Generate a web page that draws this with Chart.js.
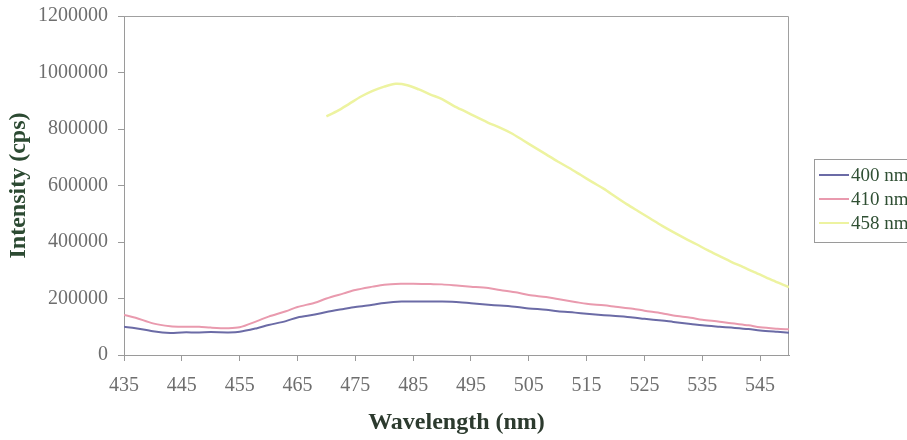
<!DOCTYPE html>
<html>
<head>
<meta charset="utf-8">
<script src="https://cdn.jsdelivr.net/npm/chart.js@4/dist/chart.umd.min.js"></script>
<style>
  html, body { margin: 0; padding: 0; background: #ffffff; }
  #wrap { width: 907px; height: 440px; position: relative; }
</style>
</head>
<body>
<div id="wrap"><canvas id="c" width="907" height="440"></canvas></div>
<script>
// ---- data ----
const seriesLabels = ["400 nm", "410 nm", "458 nm"];
const xTicks = [435, 445, 455, 465, 475, 485, 495, 505, 515, 525, 535, 545];
const yTicks = [0, 200000, 400000, 600000, 800000, 1000000, 1200000];

const wlBluePink = [435, 437, 440, 443, 445, 448, 450, 453, 455, 458, 460, 463, 465, 468, 470, 473, 475, 478, 480, 483, 485, 488, 490, 493, 495, 498, 500, 503, 505, 508, 510, 513, 515, 518, 520, 523, 525, 528, 530, 533, 535, 538, 540, 543, 545, 548, 550];
const blue400 = [100000, 95000, 84000, 78000, 80000, 80000, 81000, 80000, 82000, 95000, 106000, 120000, 133000, 143000, 152000, 163000, 170000, 178000, 184000, 189000, 189000, 189000, 189000, 187000, 183000, 178000, 175000, 170000, 165000, 160000, 155000, 150000, 146000, 141000, 138000, 133000, 128000, 122000, 117000, 110000, 105000, 100000, 97000, 92000, 87000, 82000, 79000];
const pink410 = [142000, 132000, 112000, 102000, 100000, 100000, 97000, 95000, 98000, 120000, 136000, 155000, 170000, 185000, 200000, 218000, 230000, 242000, 249000, 252000, 252000, 251000, 250000, 245000, 242000, 237000, 230000, 221000, 212000, 205000, 198000, 188000, 181000, 176000, 171000, 164000, 157000, 148000, 140000, 132000, 125000, 118000, 112000, 105000, 98000, 93000, 91000];

const wlYellow = [470, 472, 474, 476, 478, 480, 482, 484, 486, 488, 490, 492, 494, 496, 498, 500, 502, 504, 506, 508, 510, 512, 514, 516, 518, 520, 522, 524, 526, 528, 530, 532, 534, 536, 538, 540, 542, 544, 546, 548, 550];
const yellow458 = [845000, 865000, 890000, 915000, 935000, 950000, 960000, 955000, 940000, 922000, 906000, 882000, 862000, 842000, 822000, 805000, 785000, 760000, 735000, 710000, 685000, 662000, 637000, 612000, 588000, 560000, 533000, 508000, 483000, 458000, 435000, 413000, 392000, 370000, 350000, 330000, 312000, 293000, 275000, 257000, 240000];

const colors = ["#6b6ba6", "#e99aae", "#edf3a0"];
const serif = '"Liberation Serif", "Times New Roman", serif';

const pts = (xs, ys) => xs.map((x, i) => ({ x: x, y: ys[i] }));

const frameAndLegend = {
  id: 'frameAndLegend',
  beforeDatasetsDraw(chart) {
    const { ctx, chartArea: a } = chart;
    ctx.save();
    ctx.strokeStyle = '#a0a0a0';
    ctx.lineWidth = 1;
    ctx.beginPath();
    ctx.moveTo(a.left, a.top + 0.5);
    ctx.lineTo(a.right - 0.5, a.top + 0.5);
    ctx.lineTo(a.right - 0.5, a.bottom);
    ctx.stroke();
    ctx.restore();
  },
  afterDraw(chart) {
    const ctx = chart.ctx;
    const bx = 814.5, by = 159.5, bw = 110, bh = 83;
    ctx.save();
    ctx.strokeStyle = '#9a9a9a';
    ctx.lineWidth = 1;
    ctx.strokeRect(bx, by, bw, bh);
    ctx.font = '19px ' + serif;
    ctx.textBaseline = 'middle';
    ctx.textAlign = 'left';
    chart.data.datasets.forEach((ds, i) => {
      const yy = 175 + i * 24;
      ctx.strokeStyle = ds.borderColor;
      ctx.lineWidth = 2;
      ctx.beginPath();
      ctx.moveTo(819, yy);
      ctx.lineTo(849, yy);
      ctx.stroke();
      ctx.fillStyle = '#2f4f33';
      ctx.fillText(ds.label, 851, yy + 1);
    });
    ctx.restore();
  }
};

new Chart(document.getElementById('c'), {
  type: 'line',
  data: {
    datasets: [
      { label: seriesLabels[0], data: pts(wlBluePink, blue400), borderColor: colors[0], borderWidth: 2, pointRadius: 0, tension: 0.3, fill: false },
      { label: seriesLabels[1], data: pts(wlBluePink, pink410), borderColor: colors[1], borderWidth: 2, pointRadius: 0, tension: 0.3, fill: false },
      { label: seriesLabels[2], data: pts(wlYellow, yellow458), borderColor: colors[2], borderWidth: 2.5, pointRadius: 0, tension: 0.3, fill: false }
    ]
  },
  options: {
    responsive: false,
    animation: false,
    layout: { padding: { left: 0, right: 118, top: 16, bottom: 0 } },
    plugins: { legend: { display: false }, tooltip: { enabled: false } },
    scales: {
      x: {
        type: 'linear',
        min: 435, max: 550,
        afterBuildTicks: (s) => { s.ticks = xTicks.map(v => ({ value: v })); },
        afterFit: (s) => { s.height = 85; s.paddingLeft = 0; s.paddingRight = 0; },
        grid: { display: true, drawOnChartArea: false, drawTicks: true, tickLength: 6, color: '#9a9a9a' },
        border: { display: true, color: '#9a9a9a', width: 1 },
        ticks: { color: '#6e6e6e', font: { family: serif, size: 20 }, padding: 13, maxRotation: 0, autoSkip: false, callback: (v) => String(v) },
        title: { display: true, text: 'Wavelength (nm)', color: '#2c3a2e', font: { family: serif, size: 24, weight: 'bold' }, padding: { top: 0, bottom: 3 } }
      },
      y: {
        min: 0, max: 1200000,
        afterBuildTicks: (s) => { s.ticks = yTicks.map(v => ({ value: v })); },
        afterFit: (s) => { s.width = 124; s.paddingTop = 0; s.paddingBottom = 0; },
        grid: { display: true, drawOnChartArea: false, drawTicks: true, tickLength: 6, color: '#9a9a9a' },
        border: { display: true, color: '#9a9a9a', width: 1 },
        ticks: { color: '#6e6e6e', font: { family: serif, size: 20 }, padding: 10, callback: (v) => String(v) },
        title: { display: true, text: 'Intensity (cps)', color: '#2c4a32', font: { family: serif, size: 24, weight: 'bold' }, padding: { top: 4, bottom: 0 } }
      }
    }
  },
  plugins: [frameAndLegend]
});
</script>
</body>
</html>
